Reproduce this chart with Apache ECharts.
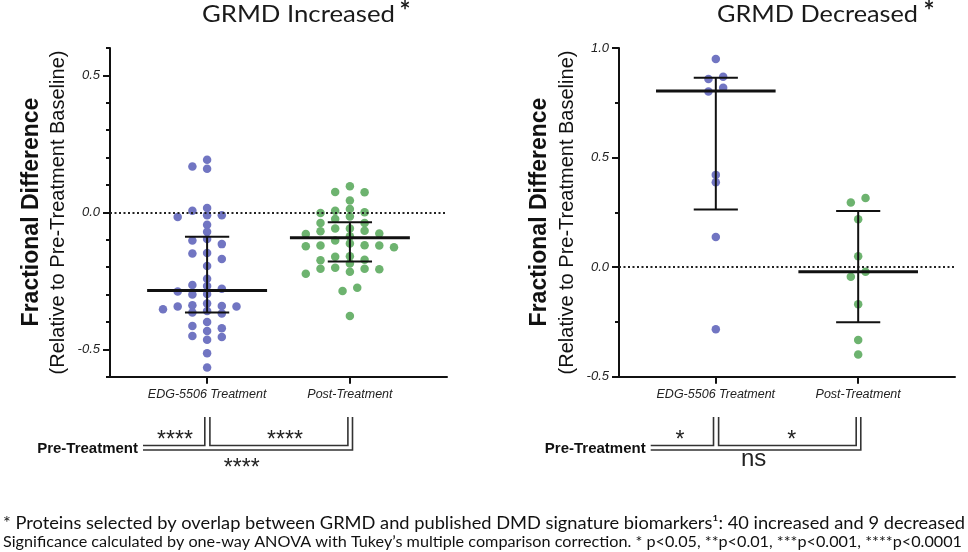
<!DOCTYPE html>
<html><head><meta charset="utf-8">
<script src="https://cdn.jsdelivr.net/npm/echarts@6/dist/echarts.min.js"></script>
<style>html,body{margin:0;padding:0;background:#fff}#c{width:968px;height:552px}</style>
</head><body><div id="c"></div>
<script>
// ---------- data ----------
const categories = ['EDG-5506 Treatment', 'Post-Treatment'];
const incEdg = [0.192, 0.167, 0.159, 0.016, 0.006, -0.011, -0.011, -0.017, -0.045, -0.071, -0.097, -0.103, -0.116, -0.148, -0.150, -0.170, -0.196, -0.242, -0.265, -0.269, -0.279, -0.289, -0.298, -0.300, -0.333, -0.339, -0.342, -0.344, -0.344, -0.354, -0.360, -0.366, -0.369, -0.400, -0.415, -0.423, -0.433, -0.451, -0.455, -0.465, -0.514, -0.566];
const incPost = [0.095, 0.074, 0.073, 0.043, 0.012, 0.006, 0.000, -0.002, -0.015, -0.024, -0.039, -0.039, -0.059, -0.059, -0.067, -0.069, -0.077, -0.079, -0.087, -0.103, -0.114, -0.120, -0.121, -0.121, -0.124, -0.127, -0.160, -0.162, -0.173, -0.175, -0.187, -0.202, -0.206, -0.206, -0.208, -0.217, -0.224, -0.275, -0.287, -0.378];
const incMedian = [-0.285, -0.093];
const incLower = [-0.366, -0.179];
const incUpper = [-0.089, -0.036];
const decEdg = [0.950, 0.869, 0.858, 0.819, 0.802, 0.421, 0.387, 0.137, -0.283];
const decPost = [0.315, 0.295, 0.218, 0.050, -0.021, -0.044, -0.169, -0.333, -0.399];
const decMedian = [0.804, -0.021];
const decLower = [0.263, -0.251];
const decUpper = [0.864, 0.256];
const incRange = [-0.6, 0.6];
const incLabelRange = [-0.5, 0.5];
const decRange = [-0.5, 1.0];
const titles = ['GRMD Increased', 'GRMD Decreased'];
const yTitle = 'Fractional Difference';
const ySub = '(Relative to Pre-Treatment Baseline)';
const preLabel = 'Pre-Treatment';
const incSig = ['****', '****', '****'];
const decSig = ['*', '*', 'ns'];
const note1 = '* Proteins selected by overlap between GRMD and published DMD signature biomarkers\u00b9: 40 increased and 9 decreased';
const note2 = 'Significance calculated by one-way ANOVA with Tukey\u2019s multiple comparison correction. * p<0.05, **p<0.01, ***p<0.001, ****p<0.0001';

// ---------- layout ----------
const BLUE = '#7175C2', GREEN = '#6DB36F', INK = '#111';
const G = {top: 48, height: 328.7};
const xMin = 0.32, xMax = 2.68;
const PL = {left: 110, width: 337}, PR = {left: 619, width: 336};
const AX = "'Liberation Sans', Arial, sans-serif";
function catGrid(g) {
  const px = g.width / (xMax - xMin);
  return {left: g.left + (1 - xMin) * px - 0.5 * px, width: 2 * px, top: G.top, height: G.height};
}
const pxYL = G.height / (incRange[1] - incRange[0]);
const pxYR = G.height / (decRange[1] - decRange[0]);

// beeswarm-like column layout computed from the values
function swarm(values, cat, pxPerY, g) {
  const pxPerX = g.width / (xMax - xMin);
  const step = 14.7, diam = 7;
  const order = values.map((v, i) => i).sort((a, b) => values[b] - values[a]);
  const cols = new Array(values.length);
  const placed = [];
  order.forEach(i => {
    const v = values[i];
    for (let k = 0; k < 50; k++) {
      const col = k === 0 ? 0 : (k % 2 === 1 ? -Math.ceil(k / 2) : Math.ceil(k / 2));
      const clash = placed.some(p => p.col === col && Math.abs(p.v - v) * pxPerY < diam);
      if (!clash) { cols[i] = col; placed.push({v, col}); break; }
    }
  });
  const runs = []; let cur = [order[0]];
  for (let j = 1; j < order.length; j++) {
    if ((values[order[j - 1]] - values[order[j]]) * pxPerY < diam) cur.push(order[j]);
    else { runs.push(cur); cur = [order[j]]; }
  }
  runs.push(cur);
  runs.forEach(r => {
    if (r.length === 2) {
      const s = -(cols[r[0]] + cols[r[1]]) / 2;
      r.forEach(i => cols[i] += s);
    }
  });
  return values.map((v, i) => [cat + cols[i] * step / pxPerX, v]);
}

function errRender(params, api) {
  const x = api.value(0), m = api.value(1), lo = api.value(2), hi = api.value(3);
  const hw = 0.42, ww = 0.155;
  const p = (a, b) => api.coord([a, b]);
  const ln = (a, b, w) => ({type: 'line', shape: {x1: a[0], y1: a[1], x2: b[0], y2: b[1]}, style: {stroke: INK, lineWidth: w}});
  return {type: 'group', children: [
    ln(p(x, lo), p(x, hi), 2),
    ln(p(x - ww, hi), p(x + ww, hi), 2),
    ln(p(x - ww, lo), p(x + ww, lo), 2),
    ln(p(x - hw, m), p(x + hw, m), 3)
  ]};
}

const zeroLine = {silent: true, symbol: 'none', label: {show: false},
  lineStyle: {color: '#222', type: [2, 2.5], width: 1.8}, data: [{yAxis: 0}]};
const fmt = v => v.toFixed(1);
const tickStyle = {color: INK, width: 2};
const labelStyle = {fontFamily: AX, fontStyle: 'italic', fontSize: 13, color: '#222', margin: 10, formatter: fmt};
const catLabel = {fontFamily: AX, fontStyle: 'italic', fontSize: 12.5, color: '#222', margin: 11, interval: 0, hideOverlap: false};
const catAxis = gi => ({gridIndex: gi, type: 'category', data: categories,
  axisLine: {show: true, onZero: false, lineStyle: {color: 'rgba(0,0,0,0)'}},
  axisTick: {show: true, interval: 0, alignWithLabel: true, length: 7, lineStyle: tickStyle},
  axisLabel: catLabel, splitLine: {show: false}});

const option = {
  animation: false,
  backgroundColor: '#fff',
  grid: [
    {left: PL.left, width: PL.width, top: G.top, height: G.height},
    {left: PL.left, width: PL.width, top: G.top + (incRange[1] - incLabelRange[1]) * pxYL, height: (incLabelRange[1] - incLabelRange[0]) * pxYL},
    catGrid(PL),
    {left: PR.left, width: PR.width, top: G.top, height: G.height},
    catGrid(PR)
  ],
  xAxis: [
    {gridIndex: 0, type: 'value', min: xMin, max: xMax, axisLine: {onZero: false, lineStyle: tickStyle}, axisTick: {show: false}, axisLabel: {show: false}, splitLine: {show: false}},
    {gridIndex: 1, type: 'value', min: xMin, max: xMax, show: false},
    catAxis(2),
    {gridIndex: 3, type: 'value', min: xMin, max: xMax, axisLine: {onZero: false, lineStyle: tickStyle}, axisTick: {show: false}, axisLabel: {show: false}, splitLine: {show: false}},
    catAxis(4)
  ],
  yAxis: [
    {gridIndex: 0, type: 'value', min: incRange[0], max: incRange[1], interval: 0.1, axisLine: {show: true, onZero: false, lineStyle: tickStyle}, axisTick: {show: true, length: 4, lineStyle: tickStyle}, axisLabel: {show: false}, splitLine: {show: false}},
    {gridIndex: 1, type: 'value', min: incLabelRange[0], max: incLabelRange[1], interval: 0.5, axisLine: {show: false}, axisTick: {show: true, length: 7, lineStyle: tickStyle}, axisLabel: labelStyle, splitLine: {show: false}},
    {gridIndex: 2, type: 'value', min: 0, max: 1, show: false},
    {gridIndex: 3, type: 'value', min: decRange[0], max: decRange[1], interval: 0.5, axisLine: {show: true, onZero: false, lineStyle: tickStyle}, axisTick: {show: true, length: 7, lineStyle: tickStyle}, minorTick: {show: true, splitNumber: 2, length: 4, lineStyle: tickStyle}, axisLabel: labelStyle, splitLine: {show: false}},
    {gridIndex: 4, type: 'value', min: 0, max: 1, show: false}
  ],
  series: [
    {type: 'scatter', xAxisIndex: 0, yAxisIndex: 0, data: swarm(incEdg, 1, pxYL, PL), symbolSize: 8.5, itemStyle: {color: BLUE, opacity: 1}, markLine: zeroLine, z: 2},
    {type: 'scatter', xAxisIndex: 0, yAxisIndex: 0, data: swarm(incPost, 2, pxYL, PL), symbolSize: 8.5, itemStyle: {color: GREEN, opacity: 1}, z: 2},
    {type: 'custom', xAxisIndex: 0, yAxisIndex: 0, renderItem: errRender, z: 5,
      data: categories.map((c, i) => [i + 1, incMedian[i], incLower[i], incUpper[i]])},
    {type: 'scatter', xAxisIndex: 3, yAxisIndex: 3, data: swarm(decEdg, 1, pxYR, PR), symbolSize: 8.5, itemStyle: {color: BLUE, opacity: 1}, markLine: zeroLine, z: 2},
    {type: 'scatter', xAxisIndex: 3, yAxisIndex: 3, data: swarm(decPost, 2, pxYR, PR), symbolSize: 8.5, itemStyle: {color: GREEN, opacity: 1}, z: 2},
    {type: 'custom', xAxisIndex: 3, yAxisIndex: 3, renderItem: errRender, z: 5,
      data: categories.map((c, i) => [i + 1, decMedian[i], decLower[i], decUpper[i]])}
  ]
};

const chart = echarts.init(document.getElementById('c'), null, {renderer: 'canvas', width: 968, height: 552});
chart.setOption(option);

// ---------- annotations ----------
const mctx = document.createElement('canvas').getContext('2d');
function fit(text, font, target) { mctx.font = font; return target / mctx.measureText(text).width; }
function txt(text, x, y, font, opts) {
  opts = opts || {};
  return {type: 'text', x, y, rotation: opts.rot || 0, scaleX: opts.sx || 1, silent: true, z: 10,
    style: {text, font, fill: opts.fill || '#111', align: opts.align || 'center', verticalAlign: 'middle'}};
}
const TF = "23px Lato", SF = "bold 26px Lato";
const BF = "bold 23px " + AX, RF = "20px " + AX;
const PF = "bold 15px " + AX, STF = "23px " + AX, NSF = "24px " + AX;
const N1F = "17px Lato", N2F = "15.5px Lato";

const lc1 = chart.convertToPixel({xAxisIndex: 0}, 1), lc2 = chart.convertToPixel({xAxisIndex: 0}, 2);
const rc1 = chart.convertToPixel({xAxisIndex: 3}, 1), rc2 = chart.convertToPixel({xAxisIndex: 3}, 2);

function bracket(c1, c2, preRight) {
  const x0 = preRight + 5, yTop = 417, yA = 445.5, yB = 450;
  const ls = {stroke: '#333', lineWidth: 1.6, fill: null};
  return [
    {type: 'polyline', silent: true, shape: {points: [[x0, yA], [c1 - 2.3, yA], [c1 - 2.3, yTop]]}, style: ls},
    {type: 'polyline', silent: true, shape: {points: [[c1 + 2.8, yTop], [c1 + 2.8, yA], [c2 - 2, yA], [c2 - 2, yTop]]}, style: ls},
    {type: 'polyline', silent: true, shape: {points: [[x0, yB], [c2 + 2.6, yB], [c2 + 2.6, yTop]]}, style: ls}
  ];
}

const graphics = [
  txt(titles[0], 298.5, 14.5, TF, {sx: fit(titles[0], TF, 193), fill: '#1a1a1a'}),
  txt('*', 405, 12, SF, {fill: '#1a1a1a'}),
  txt(titles[1], 817.5, 14.5, TF, {sx: fit(titles[1], TF, 201), fill: '#1a1a1a'}),
  txt('*', 929, 12, SF, {fill: '#1a1a1a'}),
  txt(yTitle, 32, 212, BF, {rot: Math.PI / 2}),
  txt(ySub, 58, 212.5, RF, {rot: Math.PI / 2}),
  txt(yTitle, 540, 212, BF, {rot: Math.PI / 2}),
  txt(ySub, 567, 212.5, RF, {rot: Math.PI / 2}),
  txt(preLabel, 138, 448.5, PF, {align: 'right'}),
  txt(preLabel, 645.7, 448.5, PF, {align: 'right'}),
  ...bracket(lc1, lc2, 138),
  ...bracket(rc1, rc2, 645.7),
  txt(incSig[0], 175, 441, STF, {fill: '#222'}),
  txt(incSig[1], 285, 441, STF, {fill: '#222'}),
  txt(incSig[2], 241.7, 468.7, STF, {fill: '#222'}),
  txt(decSig[0], 680, 441, STF, {fill: '#222'}),
  txt(decSig[1], 791.7, 441, STF, {fill: '#222'}),
  txt(decSig[2], 753.7, 459, NSF, {fill: '#222'}),
  txt(note1, 3, 523.5, N1F, {align: 'left', sx: fit(note1, N1F, 962)}),
  txt(note2, 3, 541.5, N2F, {align: 'left', sx: fit(note2, N2F, 959)})
];
chart.setOption({graphic: graphics});
</script>
</body></html>
